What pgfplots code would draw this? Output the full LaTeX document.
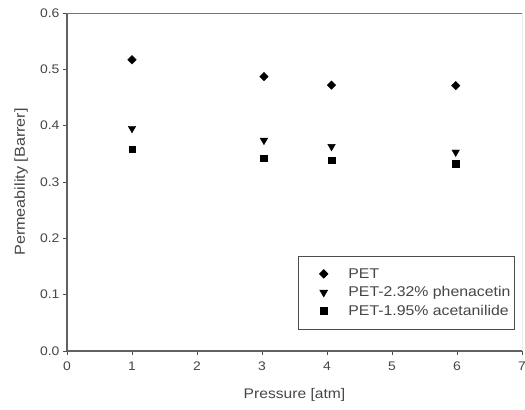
\documentclass[border=0pt]{standalone}
\usepackage{fontspec}
\setmainfont[FakeStretch=1.12]{Liberation Sans}
\usepackage{pgfplots}
\pgfplotsset{compat=1.18}
\definecolor{txt}{RGB}{70,70,70}
\begin{document}
\begin{tikzpicture}
\begin{axis}[
  name=ax,
  scale only axis,
  width=455bp, height=338bp,
  xmin=0, xmax=7, ymin=0, ymax=0.6,
  xtick={0,...,7},
  ytick={0,0.1,...,0.6},
  yticklabel style={/pgf/number format/.cd,fixed,fixed zerofill,precision=1},
  /pgf/number format/assume math mode=true,
  axis x line*=bottom, axis y line*=left,
  tick align=outside,
  major tick length=4bp,
  tick style={line width=0.9pt, color=black!70},
  ticklabel style={font=\fontsize{12.5}{13}\selectfont, text=txt},
  xticklabel style={yshift=-3bp},
  axis line style={-, line width=1.6pt, color=black!62},
  xlabel={Pressure [atm]},
  ylabel={Permeability [Barrer]},
  xlabel style={font=\fontsize{14}{16}\selectfont, text=txt, at={(axis description cs:0.5,-0.130)}, anchor=center},
  ylabel style={font=\fontsize{14.5}{16}\selectfont, text=txt, at={(axis description cs:-0.101,0.5)}, anchor=center},
  legend style={at={(0.508,0.281)}, anchor=north west, draw=black!70, line width=0.7pt,
    font=\fontsize{14.2}{17}\selectfont, text=txt, inner xsep=2pt, inner ysep=10pt,
    row sep=3pt},
  legend cell align=left,
  legend image code/.code={\draw[#1, only marks] plot coordinates {(0.82cm,0cm)}; \path[draw=none] (0,0) (1.62cm,0);},
]
\addplot[only marks, mark=square*, mark options={rotate=45}, mark size=3pt, black] coordinates {
  (1,0.517) (3.03,0.487) (4.07,0.472) (5.98,0.471)};
\addlegendentry{PET}
\addplot[only marks, mark=triangle*, mark options={rotate=180}, mark size=4.4pt, black] coordinates {
  (1,0.395) (3.03,0.374) (4.07,0.363) (5.98,0.353)};
\addlegendentry{PET-2.32\% phenacetin}
\addplot[only marks, mark=square*, mark size=3.3pt, black] coordinates {
  (1,0.358) (3.03,0.342) (4.07,0.339) (5.98,0.332)};
\addlegendentry{PET-1.95\% acetanilide}
\draw[line width=0.9pt, black!55] (rel axis cs:0,1) -- (rel axis cs:1,1) -- (rel axis cs:1,0);
\end{axis}
\pgfresetboundingbox
\path (ax.south west) ++(-67bp,-59bp) coordinate (bl);
\path (ax.north east) ++(3bp,13bp) coordinate (tr);
\useasboundingbox (bl) rectangle (tr);
\end{tikzpicture}
\end{document}
